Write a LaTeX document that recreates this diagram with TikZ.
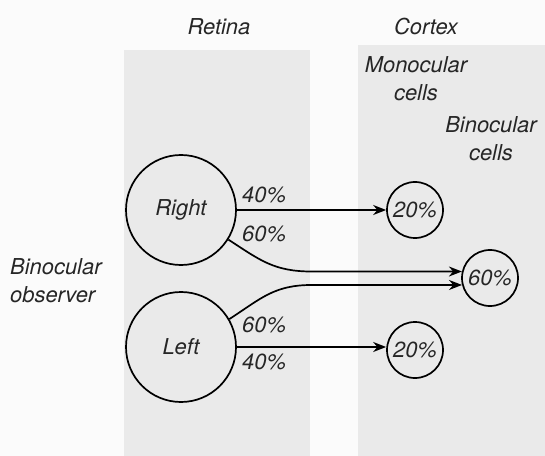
\documentclass[tikz,border=0pt]{standalone}
\usepackage{fontspec}
\setmainfont{TeX Gyre Heros}
\usetikzlibrary{arrows.meta,calc}
\definecolor{panelgray}{HTML}{EAEAEA}
\definecolor{pagebg}{HTML}{FBFBFB}
\tikzset{
  txt/.style={font=\fontsize{22}{28}\selectfont\itshape, text=black!85},
  lbl/.style={txt, inner sep=0pt},
  eye/.style={circle, draw, line width=1.7bp, minimum size=110bp, inner sep=0pt, txt},
  cell/.style={circle, draw, line width=1.7bp, minimum size=56bp, inner sep=0pt, txt},
  arr/.style={line width=1.7bp, -{Stealth[length=13bp,width=10bp]}},
}
\begin{document}
\begin{tikzpicture}[x=1bp,y=-1bp]
  % page and the two shaded panels
  \fill[pagebg] (0,0) rectangle (545,456);
  \useasboundingbox (0,0) rectangle (545,456);
  \fill[panelgray] (124,50) rectangle (310,456);
  \fill[panelgray] (358,45) rectangle (545,456);

  % headings
  \node[lbl] (tretina) at (219,27) {Retina};
  \node[lbl] (tcortex) at (426,27) {Cortex};
  \node[lbl, align=center] (tmono) at (416,79) {Monocular\\cells};
  \node[lbl, align=center] (tbino) at (491,139) {Binocular\\cells};
  \node[lbl, align=left, anchor=west] (tobs) at (10,281) {Binocular\\observer};

  % eyes
  \node[eye] (R) at (181,210) {Right};
  \node[eye] (L) at (181,347) {Left};

  % cortical cells
  \node[cell] (m1) at (415,210) {20\%};
  \node[cell] (bin) at (490,278) {60\%};
  \node[cell] (m2) at (415,350) {20\%};

  % projections (y axis points down, so positive angles head downwards)
  \draw[arr] (R.east) -- (m1.west);
  \draw[arr] (L.east) -- (L.east -| m2.west);
  \coordinate (rbend) at ($(bin.167)+(-150,0)$);
  \coordinate (lbend) at ($(bin.194)+(-150,0)$);
  \draw[arr] (R.-32) .. controls +(33:38) and ($(rbend)+(-38,0)$) .. (rbend) -- (bin.167);
  \draw[arr] (L.30) .. controls +(-33:38) and ($(lbend)+(-38,0)$) .. (lbend) -- (bin.194);

  % percentages on the fibres
  \node[lbl, anchor=west] (p1) at (242,195) {40\%};
  \node[lbl, anchor=west] (p2) at (242,234) {60\%};
  \node[lbl, anchor=west] (p3) at (242,325) {60\%};
  \node[lbl, anchor=west] (p4) at (242,362) {40\%};
\end{tikzpicture}
\end{document}
